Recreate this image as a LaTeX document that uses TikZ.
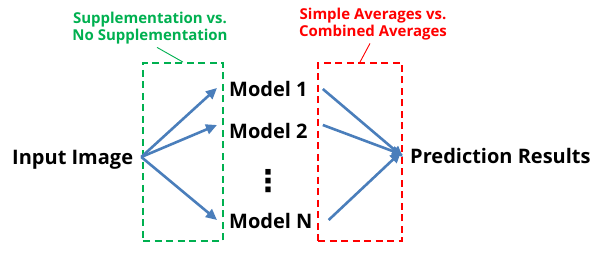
\documentclass[tikz,border=0pt]{standalone}
\usepackage{fontspec}
\setmainfont{Open Sans}
\newfontfamily\symfont{DejaVu Sans}
\usetikzlibrary{arrows.meta}
\definecolor{ogreen}{HTML}{00B050}
\definecolor{ored}{HTML}{FF0000}
\definecolor{oblue}{HTML}{4A7EBB}
\tikzset{
  big/.style={font=\bfseries\fontsize{20}{24}\selectfont, inner sep=0pt, text height=14.5pt, text depth=0pt},
  lab/.style={font=\bfseries\fontsize{15}{17}\selectfont, inner sep=0pt, align=center},
  arr/.style={oblue, line width=2.6pt, -{Triangle[length=11pt,width=10pt]}},
  dbox/.style={draw, line width=1.8pt, dash pattern=on 7pt off 4.5pt, inner sep=0pt},
  callout/.style={line width=0.9pt}
}
\begin{document}
\begin{tikzpicture}[x=1pt,y=-1pt]
\useasboundingbox (0,0) rectangle (600,253);
% boxes
\node[dbox, ogreen, minimum width=80pt, minimum height=178pt] (gb) at (183,152) {};
\node[dbox, ored, minimum width=84pt, minimum height=178pt] (rb) at (360,152) {};
% labels
\node[lab, ogreen, anchor=north] (glab) at (150,12) {Supplementation vs.\\No Supplementation};
\node[lab, ored, anchor=north] (rlab) at (373,8) {Simple Averages vs.\\Combined Averages};
\draw[callout, ogreen] ([xshift=7pt,yshift=-3pt]glab.south) -- (gb.north);
\draw[callout, ored] ([xshift=-3pt,yshift=-3pt]rlab.south) -- (rb.north);
% text nodes
\node[big, anchor=west] (inp) at (12,157) {Input Image};
\node[big, anchor=west] (m1) at (229,89) {Model 1};
\node[big, anchor=west] (m2) at (229,131) {Model 2};
\node[big, anchor=west] (mn) at (229,221) {Model N};
\node[font=\symfont\bfseries\fontsize{30}{30}\selectfont, inner sep=0pt] (dots) at (268,181) {⋮};
\node[big, anchor=west] (pred) at (410,156) {Prediction Results};
% arrows
\draw[arr] ([xshift=8pt]inp.east) -- ([xshift=-12pt,yshift=1pt]m1.west);
\draw[arr] ([xshift=8pt]inp.east) -- ([xshift=-12pt,yshift=6pt]m2.west);
\draw[arr] ([xshift=8pt]inp.east) -- ([xshift=-12pt,yshift=1pt]mn.west);
\draw[arr] ([xshift=15pt]m1.east) -- ([xshift=-7pt,yshift=-1pt]pred.west);
\draw[arr] ([xshift=15pt,yshift=6pt]m2.east) -- ([xshift=-7pt,yshift=1pt]pred.west);
\draw[arr] ([xshift=16pt,yshift=1pt]mn.east) -- ([xshift=-9pt,yshift=4pt]pred.west);
\end{tikzpicture}
\end{document}
